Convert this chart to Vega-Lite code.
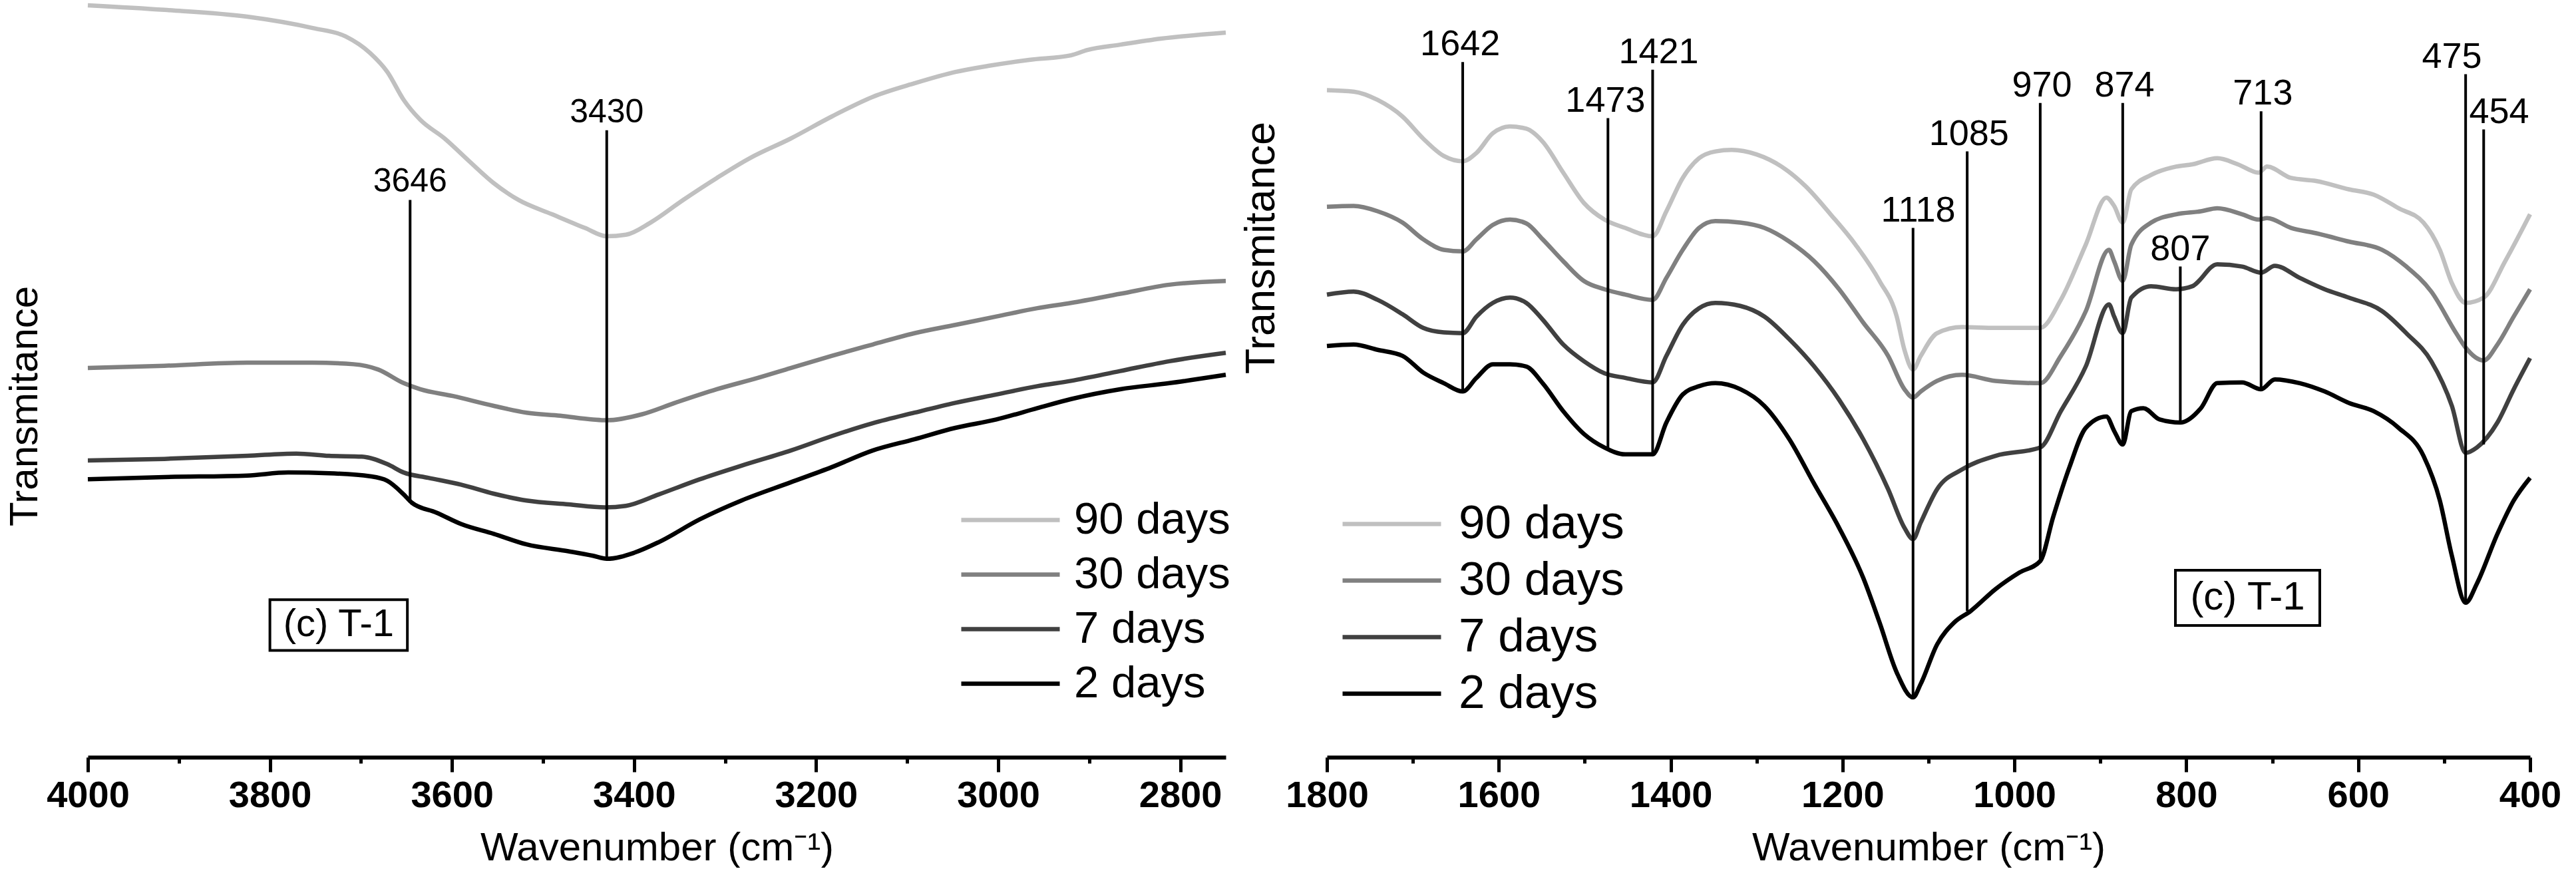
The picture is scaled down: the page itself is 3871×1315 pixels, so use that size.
{
  "$schema": "https://vega.github.io/schema/vega-lite/v6.json",
  "usermeta": {"embedOptions": {"actions": false}},
  "background": "white",
  "padding": {"left": 7, "top": 0, "right": 0, "bottom": 0},
  "autosize": {"type": "pad"},
  "spacing": 15,
  "resolve": {"scale": {"color": "independent"}, "legend": {"color": "independent"}},
  "config": {
    "view": {"stroke": null},
    "font": "Liberation Sans",
    "line": {"interpolate": "monotone", "strokeWidth": 6.5, "strokeJoin": "round"},
    "axisX": {
      "orient": "bottom",
      "grid": false,
      "format": "d",
      "domainColor": "black",
      "domainWidth": 6,
      "tickColor": "black",
      "tickWidth": 5,
      "tickSize": 22,
      "labelFont": "Liberation Sans",
      "labelFontSize": 56,
      "labelFontWeight": "bold",
      "labelColor": "black",
      "labelPadding": 8,
      "labelFlush": false,
      "labelOverlap": false,
      "titleFont": "Liberation Sans",
      "titleFontSize": 60,
      "titleFontWeight": "normal",
      "titleColor": "black",
      "titlePadding": 22
    },
    "axisY": {
      "grid": false,
      "domain": false,
      "ticks": false,
      "labels": false,
      "titleFont": "Liberation Sans",
      "titleFontWeight": "normal",
      "titleColor": "black",
      "titleAngle": 270,
      "titleAlign": "center",
      "titleBaseline": "middle"
    },
    "legend": {
      "orient": "none",
      "title": null,
      "padding": 0,
      "symbolType": "M-1,0H8.867",
      "symbolSize": 900,
      "symbolStrokeWidth": 7,
      "labelFont": "Liberation Sans",
      "labelColor": "black",
      "labelLimit": 0
    }
  },
  "datasets": {
    "left": [
      {"s": "90 days", "wn": 4000, "t": 99.3}, {"s": "90 days", "wn": 3916, "t": 98.7},
      {"s": "90 days", "wn": 3825, "t": 97.8}, {"s": "90 days", "wn": 3753, "t": 96.3},
      {"s": "90 days", "wn": 3717, "t": 95.2}, {"s": "90 days", "wn": 3690, "t": 93.0},
      {"s": "90 days", "wn": 3671, "t": 90.5}, {"s": "90 days", "wn": 3653, "t": 86.8},
      {"s": "90 days", "wn": 3635, "t": 84.2}, {"s": "90 days", "wn": 3608, "t": 81.7},
      {"s": "90 days", "wn": 3581, "t": 78.7}, {"s": "90 days", "wn": 3554, "t": 75.8},
      {"s": "90 days", "wn": 3527, "t": 73.6}, {"s": "90 days", "wn": 3490, "t": 71.7},
      {"s": "90 days", "wn": 3454, "t": 69.9}, {"s": "90 days", "wn": 3430, "t": 68.8},
      {"s": "90 days", "wn": 3409, "t": 69.0}, {"s": "90 days", "wn": 3382, "t": 70.6},
      {"s": "90 days", "wn": 3346, "t": 73.6}, {"s": "90 days", "wn": 3309, "t": 76.5},
      {"s": "90 days", "wn": 3273, "t": 79.1}, {"s": "90 days", "wn": 3228, "t": 81.7},
      {"s": "90 days", "wn": 3183, "t": 84.6}, {"s": "90 days", "wn": 3138, "t": 87.2},
      {"s": "90 days", "wn": 3092, "t": 89.0}, {"s": "90 days", "wn": 3047, "t": 90.5},
      {"s": "90 days", "wn": 3011, "t": 91.3}, {"s": "90 days", "wn": 2966, "t": 92.1},
      {"s": "90 days", "wn": 2920, "t": 92.7}, {"s": "90 days", "wn": 2902, "t": 93.4},
      {"s": "90 days", "wn": 2866, "t": 94.1}, {"s": "90 days", "wn": 2821, "t": 94.9},
      {"s": "90 days", "wn": 2750, "t": 95.7},

      {"s": "30 days", "wn": 4000, "t": 51.4}, {"s": "30 days", "wn": 3916, "t": 51.7},
      {"s": "30 days", "wn": 3825, "t": 52.1}, {"s": "30 days", "wn": 3753, "t": 52.1},
      {"s": "30 days", "wn": 3708, "t": 51.9}, {"s": "30 days", "wn": 3681, "t": 51.2},
      {"s": "30 days", "wn": 3653, "t": 49.4}, {"s": "30 days", "wn": 3635, "t": 48.6},
      {"s": "30 days", "wn": 3599, "t": 47.7}, {"s": "30 days", "wn": 3554, "t": 46.4},
      {"s": "30 days", "wn": 3518, "t": 45.5}, {"s": "30 days", "wn": 3481, "t": 45.1},
      {"s": "30 days", "wn": 3445, "t": 44.6}, {"s": "30 days", "wn": 3430, "t": 44.5},
      {"s": "30 days", "wn": 3391, "t": 45.3}, {"s": "30 days", "wn": 3355, "t": 46.8},
      {"s": "30 days", "wn": 3309, "t": 48.6}, {"s": "30 days", "wn": 3264, "t": 50.1},
      {"s": "30 days", "wn": 3228, "t": 51.4}, {"s": "30 days", "wn": 3183, "t": 53.0},
      {"s": "30 days", "wn": 3138, "t": 54.5}, {"s": "30 days", "wn": 3092, "t": 56.0},
      {"s": "30 days", "wn": 3047, "t": 57.1}, {"s": "30 days", "wn": 3002, "t": 58.2},
      {"s": "30 days", "wn": 2957, "t": 59.3}, {"s": "30 days", "wn": 2920, "t": 60.0},
      {"s": "30 days", "wn": 2866, "t": 61.2}, {"s": "30 days", "wn": 2812, "t": 62.4},
      {"s": "30 days", "wn": 2750, "t": 62.9},

      {"s": "7 days", "wn": 4000, "t": 39.2}, {"s": "7 days", "wn": 3916, "t": 39.4},
      {"s": "7 days", "wn": 3825, "t": 39.8}, {"s": "7 days", "wn": 3771, "t": 40.1},
      {"s": "7 days", "wn": 3735, "t": 39.8}, {"s": "7 days", "wn": 3699, "t": 39.7},
      {"s": "7 days", "wn": 3671, "t": 38.7}, {"s": "7 days", "wn": 3653, "t": 37.6},
      {"s": "7 days", "wn": 3626, "t": 36.9}, {"s": "7 days", "wn": 3590, "t": 36.0},
      {"s": "7 days", "wn": 3554, "t": 34.8}, {"s": "7 days", "wn": 3518, "t": 33.9},
      {"s": "7 days", "wn": 3472, "t": 33.4}, {"s": "7 days", "wn": 3432, "t": 33.0},
      {"s": "7 days", "wn": 3409, "t": 33.2}, {"s": "7 days", "wn": 3373, "t": 34.7},
      {"s": "7 days", "wn": 3328, "t": 36.7}, {"s": "7 days", "wn": 3282, "t": 38.5},
      {"s": "7 days", "wn": 3228, "t": 40.5}, {"s": "7 days", "wn": 3183, "t": 42.4},
      {"s": "7 days", "wn": 3138, "t": 44.1}, {"s": "7 days", "wn": 3092, "t": 45.5},
      {"s": "7 days", "wn": 3047, "t": 46.8}, {"s": "7 days", "wn": 3002, "t": 47.9},
      {"s": "7 days", "wn": 2957, "t": 49.0}, {"s": "7 days", "wn": 2920, "t": 49.7},
      {"s": "7 days", "wn": 2866, "t": 51.0}, {"s": "7 days", "wn": 2812, "t": 52.3},
      {"s": "7 days", "wn": 2750, "t": 53.4},

      {"s": "2 days", "wn": 4000, "t": 36.7}, {"s": "2 days", "wn": 3916, "t": 37.0},
      {"s": "2 days", "wn": 3825, "t": 37.2}, {"s": "2 days", "wn": 3780, "t": 37.6},
      {"s": "2 days", "wn": 3735, "t": 37.5}, {"s": "2 days", "wn": 3690, "t": 37.1},
      {"s": "2 days", "wn": 3671, "t": 36.5}, {"s": "2 days", "wn": 3653, "t": 34.7},
      {"s": "2 days", "wn": 3644, "t": 33.6}, {"s": "2 days", "wn": 3617, "t": 32.3},
      {"s": "2 days", "wn": 3590, "t": 30.8}, {"s": "2 days", "wn": 3554, "t": 29.5},
      {"s": "2 days", "wn": 3518, "t": 28.1}, {"s": "2 days", "wn": 3472, "t": 27.2},
      {"s": "2 days", "wn": 3445, "t": 26.6}, {"s": "2 days", "wn": 3430, "t": 26.2},
      {"s": "2 days", "wn": 3400, "t": 27.0}, {"s": "2 days", "wn": 3373, "t": 28.4},
      {"s": "2 days", "wn": 3328, "t": 31.4}, {"s": "2 days", "wn": 3282, "t": 33.9},
      {"s": "2 days", "wn": 3228, "t": 36.3}, {"s": "2 days", "wn": 3183, "t": 38.3},
      {"s": "2 days", "wn": 3138, "t": 40.5}, {"s": "2 days", "wn": 3092, "t": 42.0},
      {"s": "2 days", "wn": 3047, "t": 43.5}, {"s": "2 days", "wn": 3002, "t": 44.6},
      {"s": "2 days", "wn": 2957, "t": 46.1}, {"s": "2 days", "wn": 2920, "t": 47.3},
      {"s": "2 days", "wn": 2866, "t": 48.6}, {"s": "2 days", "wn": 2812, "t": 49.4},
      {"s": "2 days", "wn": 2750, "t": 50.5}
    ],
    "right": [
      {"s": "90 days", "wn": 1800, "t": 88.1}, {"s": "90 days", "wn": 1769, "t": 87.9},
      {"s": "90 days", "wn": 1741, "t": 86.8}, {"s": "90 days", "wn": 1712, "t": 84.6},
      {"s": "90 days", "wn": 1688, "t": 81.7}, {"s": "90 days", "wn": 1664, "t": 79.4},
      {"s": "90 days", "wn": 1642, "t": 78.7}, {"s": "90 days", "wn": 1626, "t": 79.8},
      {"s": "90 days", "wn": 1607, "t": 82.4}, {"s": "90 days", "wn": 1587, "t": 83.3},
      {"s": "90 days", "wn": 1568, "t": 83.0}, {"s": "90 days", "wn": 1549, "t": 81.3},
      {"s": "90 days", "wn": 1525, "t": 77.2}, {"s": "90 days", "wn": 1501, "t": 73.2},
      {"s": "90 days", "wn": 1477, "t": 71.0}, {"s": "90 days", "wn": 1453, "t": 69.9},
      {"s": "90 days", "wn": 1421, "t": 68.8}, {"s": "90 days", "wn": 1405, "t": 72.1},
      {"s": "90 days", "wn": 1386, "t": 76.5}, {"s": "90 days", "wn": 1367, "t": 79.1},
      {"s": "90 days", "wn": 1348, "t": 80.0}, {"s": "90 days", "wn": 1329, "t": 80.2},
      {"s": "90 days", "wn": 1300, "t": 79.6}, {"s": "90 days", "wn": 1271, "t": 78.0},
      {"s": "90 days", "wn": 1243, "t": 75.4}, {"s": "90 days", "wn": 1214, "t": 71.7},
      {"s": "90 days", "wn": 1185, "t": 67.7}, {"s": "90 days", "wn": 1157, "t": 62.9},
      {"s": "90 days", "wn": 1137, "t": 58.2}, {"s": "90 days", "wn": 1128, "t": 53.8},
      {"s": "90 days", "wn": 1118, "t": 51.2}, {"s": "90 days", "wn": 1109, "t": 53.0},
      {"s": "90 days", "wn": 1090, "t": 56.0}, {"s": "90 days", "wn": 1061, "t": 56.8},
      {"s": "90 days", "wn": 1022, "t": 56.7}, {"s": "90 days", "wn": 970, "t": 56.7},
      {"s": "90 days", "wn": 946, "t": 60.4}, {"s": "90 days", "wn": 917, "t": 67.7},
      {"s": "90 days", "wn": 893, "t": 73.9}, {"s": "90 days", "wn": 884, "t": 72.8},
      {"s": "90 days", "wn": 874, "t": 70.6}, {"s": "90 days", "wn": 864, "t": 75.0},
      {"s": "90 days", "wn": 841, "t": 76.9}, {"s": "90 days", "wn": 812, "t": 78.0},
      {"s": "90 days", "wn": 793, "t": 78.3}, {"s": "90 days", "wn": 764, "t": 79.1},
      {"s": "90 days", "wn": 740, "t": 78.3}, {"s": "90 days", "wn": 716, "t": 77.2},
      {"s": "90 days", "wn": 706, "t": 78.0}, {"s": "90 days", "wn": 678, "t": 76.5},
      {"s": "90 days", "wn": 649, "t": 76.1}, {"s": "90 days", "wn": 611, "t": 75.0},
      {"s": "90 days", "wn": 582, "t": 74.3}, {"s": "90 days", "wn": 553, "t": 72.5},
      {"s": "90 days", "wn": 524, "t": 70.6}, {"s": "90 days", "wn": 505, "t": 67.0},
      {"s": "90 days", "wn": 491, "t": 62.6}, {"s": "90 days", "wn": 475, "t": 60.0},
      {"s": "90 days", "wn": 454, "t": 60.7}, {"s": "90 days", "wn": 429, "t": 65.5},
      {"s": "90 days", "wn": 400, "t": 71.7},

      {"s": "30 days", "wn": 1800, "t": 72.7}, {"s": "30 days", "wn": 1769, "t": 72.8},
      {"s": "30 days", "wn": 1741, "t": 72.1}, {"s": "30 days", "wn": 1712, "t": 70.6},
      {"s": "30 days", "wn": 1688, "t": 68.4}, {"s": "30 days", "wn": 1664, "t": 67.0},
      {"s": "30 days", "wn": 1642, "t": 66.8}, {"s": "30 days", "wn": 1626, "t": 68.4},
      {"s": "30 days", "wn": 1607, "t": 70.3}, {"s": "30 days", "wn": 1587, "t": 71.0},
      {"s": "30 days", "wn": 1568, "t": 70.5}, {"s": "30 days", "wn": 1549, "t": 68.4},
      {"s": "30 days", "wn": 1525, "t": 65.5}, {"s": "30 days", "wn": 1501, "t": 62.9},
      {"s": "30 days", "wn": 1477, "t": 61.8}, {"s": "30 days", "wn": 1453, "t": 61.1},
      {"s": "30 days", "wn": 1421, "t": 60.4}, {"s": "30 days", "wn": 1405, "t": 63.3},
      {"s": "30 days", "wn": 1386, "t": 67.0}, {"s": "30 days", "wn": 1367, "t": 69.9},
      {"s": "30 days", "wn": 1348, "t": 70.8}, {"s": "30 days", "wn": 1319, "t": 70.6},
      {"s": "30 days", "wn": 1291, "t": 69.9}, {"s": "30 days", "wn": 1262, "t": 68.1},
      {"s": "30 days", "wn": 1233, "t": 65.5}, {"s": "30 days", "wn": 1204, "t": 61.8},
      {"s": "30 days", "wn": 1176, "t": 57.4}, {"s": "30 days", "wn": 1147, "t": 53.0},
      {"s": "30 days", "wn": 1128, "t": 48.6}, {"s": "30 days", "wn": 1118, "t": 47.5},
      {"s": "30 days", "wn": 1109, "t": 48.3}, {"s": "30 days", "wn": 1090, "t": 49.7},
      {"s": "30 days", "wn": 1061, "t": 50.5}, {"s": "30 days", "wn": 1022, "t": 49.7},
      {"s": "30 days", "wn": 970, "t": 49.4}, {"s": "30 days", "wn": 946, "t": 53.0},
      {"s": "30 days", "wn": 917, "t": 58.9}, {"s": "30 days", "wn": 890, "t": 67.0},
      {"s": "30 days", "wn": 884, "t": 65.5}, {"s": "30 days", "wn": 874, "t": 62.9},
      {"s": "30 days", "wn": 864, "t": 67.7}, {"s": "30 days", "wn": 841, "t": 70.6},
      {"s": "30 days", "wn": 812, "t": 71.7}, {"s": "30 days", "wn": 783, "t": 72.1},
      {"s": "30 days", "wn": 764, "t": 72.5}, {"s": "30 days", "wn": 735, "t": 71.7},
      {"s": "30 days", "wn": 716, "t": 71.0}, {"s": "30 days", "wn": 706, "t": 71.2},
      {"s": "30 days", "wn": 678, "t": 69.9}, {"s": "30 days", "wn": 649, "t": 69.2},
      {"s": "30 days", "wn": 611, "t": 68.1}, {"s": "30 days", "wn": 572, "t": 67.0},
      {"s": "30 days", "wn": 544, "t": 64.8}, {"s": "30 days", "wn": 515, "t": 61.5},
      {"s": "30 days", "wn": 486, "t": 56.0}, {"s": "30 days", "wn": 475, "t": 54.1},
      {"s": "30 days", "wn": 454, "t": 52.4}, {"s": "30 days", "wn": 438, "t": 54.5},
      {"s": "30 days", "wn": 419, "t": 58.2}, {"s": "30 days", "wn": 400, "t": 61.8},

      {"s": "7 days", "wn": 1800, "t": 61.1}, {"s": "7 days", "wn": 1769, "t": 61.5},
      {"s": "7 days", "wn": 1741, "t": 60.4}, {"s": "7 days", "wn": 1712, "t": 58.5},
      {"s": "7 days", "wn": 1688, "t": 56.7}, {"s": "7 days", "wn": 1664, "t": 56.1},
      {"s": "7 days", "wn": 1642, "t": 56.0}, {"s": "7 days", "wn": 1626, "t": 58.2},
      {"s": "7 days", "wn": 1607, "t": 60.0}, {"s": "7 days", "wn": 1587, "t": 60.7},
      {"s": "7 days", "wn": 1568, "t": 60.0}, {"s": "7 days", "wn": 1549, "t": 57.8},
      {"s": "7 days", "wn": 1525, "t": 54.5}, {"s": "7 days", "wn": 1501, "t": 52.3},
      {"s": "7 days", "wn": 1477, "t": 50.7}, {"s": "7 days", "wn": 1453, "t": 50.1},
      {"s": "7 days", "wn": 1421, "t": 49.5}, {"s": "7 days", "wn": 1405, "t": 53.0},
      {"s": "7 days", "wn": 1386, "t": 57.1}, {"s": "7 days", "wn": 1367, "t": 59.3},
      {"s": "7 days", "wn": 1348, "t": 60.0}, {"s": "7 days", "wn": 1319, "t": 59.6},
      {"s": "7 days", "wn": 1291, "t": 58.2}, {"s": "7 days", "wn": 1262, "t": 55.2},
      {"s": "7 days", "wn": 1233, "t": 51.6}, {"s": "7 days", "wn": 1204, "t": 47.2},
      {"s": "7 days", "wn": 1176, "t": 42.0}, {"s": "7 days", "wn": 1147, "t": 35.4},
      {"s": "7 days", "wn": 1128, "t": 30.3}, {"s": "7 days", "wn": 1118, "t": 28.8},
      {"s": "7 days", "wn": 1109, "t": 31.0}, {"s": "7 days", "wn": 1090, "t": 35.4},
      {"s": "7 days", "wn": 1061, "t": 38.0}, {"s": "7 days", "wn": 1022, "t": 39.8},
      {"s": "7 days", "wn": 970, "t": 40.9}, {"s": "7 days", "wn": 946, "t": 45.7},
      {"s": "7 days", "wn": 917, "t": 51.6}, {"s": "7 days", "wn": 890, "t": 59.8},
      {"s": "7 days", "wn": 884, "t": 58.2}, {"s": "7 days", "wn": 874, "t": 56.0},
      {"s": "7 days", "wn": 864, "t": 60.7}, {"s": "7 days", "wn": 841, "t": 62.2},
      {"s": "7 days", "wn": 812, "t": 61.8}, {"s": "7 days", "wn": 793, "t": 62.2},
      {"s": "7 days", "wn": 764, "t": 65.1}, {"s": "7 days", "wn": 735, "t": 64.8},
      {"s": "7 days", "wn": 713, "t": 64.0}, {"s": "7 days", "wn": 697, "t": 64.9},
      {"s": "7 days", "wn": 668, "t": 63.3}, {"s": "7 days", "wn": 639, "t": 61.8},
      {"s": "7 days", "wn": 611, "t": 60.7}, {"s": "7 days", "wn": 572, "t": 58.9},
      {"s": "7 days", "wn": 544, "t": 56.0}, {"s": "7 days", "wn": 515, "t": 52.3},
      {"s": "7 days", "wn": 491, "t": 46.4}, {"s": "7 days", "wn": 475, "t": 40.2},
      {"s": "7 days", "wn": 462, "t": 40.9}, {"s": "7 days", "wn": 438, "t": 44.2},
      {"s": "7 days", "wn": 419, "t": 48.6}, {"s": "7 days", "wn": 400, "t": 52.7},

      {"s": "2 days", "wn": 1800, "t": 54.3}, {"s": "2 days", "wn": 1769, "t": 54.5},
      {"s": "2 days", "wn": 1741, "t": 53.8}, {"s": "2 days", "wn": 1712, "t": 53.0},
      {"s": "2 days", "wn": 1688, "t": 50.8}, {"s": "2 days", "wn": 1664, "t": 49.4},
      {"s": "2 days", "wn": 1642, "t": 48.3}, {"s": "2 days", "wn": 1626, "t": 50.1},
      {"s": "2 days", "wn": 1607, "t": 51.9}, {"s": "2 days", "wn": 1587, "t": 51.9},
      {"s": "2 days", "wn": 1568, "t": 51.6}, {"s": "2 days", "wn": 1549, "t": 49.4},
      {"s": "2 days", "wn": 1525, "t": 45.7}, {"s": "2 days", "wn": 1501, "t": 42.7},
      {"s": "2 days", "wn": 1477, "t": 40.9}, {"s": "2 days", "wn": 1453, "t": 40.0},
      {"s": "2 days", "wn": 1421, "t": 40.0}, {"s": "2 days", "wn": 1405, "t": 44.2},
      {"s": "2 days", "wn": 1386, "t": 47.9}, {"s": "2 days", "wn": 1367, "t": 49.0},
      {"s": "2 days", "wn": 1348, "t": 49.4}, {"s": "2 days", "wn": 1319, "t": 48.6},
      {"s": "2 days", "wn": 1291, "t": 46.4}, {"s": "2 days", "wn": 1262, "t": 42.0},
      {"s": "2 days", "wn": 1233, "t": 36.1}, {"s": "2 days", "wn": 1204, "t": 30.3},
      {"s": "2 days", "wn": 1176, "t": 23.7}, {"s": "2 days", "wn": 1157, "t": 17.8},
      {"s": "2 days", "wn": 1137, "t": 11.2}, {"s": "2 days", "wn": 1118, "t": 7.9},
      {"s": "2 days", "wn": 1109, "t": 9.7}, {"s": "2 days", "wn": 1090, "t": 14.9},
      {"s": "2 days", "wn": 1070, "t": 17.8}, {"s": "2 days", "wn": 1051, "t": 19.3},
      {"s": "2 days", "wn": 1022, "t": 22.2}, {"s": "2 days", "wn": 994, "t": 24.4},
      {"s": "2 days", "wn": 970, "t": 25.9}, {"s": "2 days", "wn": 955, "t": 31.7},
      {"s": "2 days", "wn": 936, "t": 38.3}, {"s": "2 days", "wn": 917, "t": 43.5},
      {"s": "2 days", "wn": 893, "t": 45.0}, {"s": "2 days", "wn": 884, "t": 43.1},
      {"s": "2 days", "wn": 874, "t": 41.3}, {"s": "2 days", "wn": 864, "t": 45.7},
      {"s": "2 days", "wn": 850, "t": 46.1}, {"s": "2 days", "wn": 831, "t": 44.6},
      {"s": "2 days", "wn": 807, "t": 44.2}, {"s": "2 days", "wn": 783, "t": 46.1},
      {"s": "2 days", "wn": 764, "t": 49.4}, {"s": "2 days", "wn": 735, "t": 49.5},
      {"s": "2 days", "wn": 713, "t": 48.6}, {"s": "2 days", "wn": 697, "t": 49.9},
      {"s": "2 days", "wn": 668, "t": 49.4}, {"s": "2 days", "wn": 639, "t": 48.3},
      {"s": "2 days", "wn": 611, "t": 46.8}, {"s": "2 days", "wn": 582, "t": 45.7},
      {"s": "2 days", "wn": 553, "t": 43.5}, {"s": "2 days", "wn": 524, "t": 39.8},
      {"s": "2 days", "wn": 505, "t": 33.9}, {"s": "2 days", "wn": 491, "t": 26.6},
      {"s": "2 days", "wn": 475, "t": 20.4}, {"s": "2 days", "wn": 462, "t": 22.9},
      {"s": "2 days", "wn": 438, "t": 29.5}, {"s": "2 days", "wn": 419, "t": 33.9},
      {"s": "2 days", "wn": 400, "t": 36.9}
    ],
    "leftPeaks": [
      {"label": "3430", "pos": 3430, "lx": 3430, "top": 82.8, "bot": 26.2},
      {"label": "3646", "pos": 3646, "lx": 3646, "top": 73.6, "bot": 33.6}
    ],
    "rightPeaks": [
      {"label": "1642", "pos": 1642, "lx": 1645, "top": 91.8, "bot": 48.3},
      {"label": "1473", "pos": 1473, "lx": 1476, "top": 84.4, "bot": 40.5},
      {"label": "1421", "pos": 1421, "lx": 1414, "top": 90.8, "bot": 40.0},
      {"label": "1118", "pos": 1118, "lx": 1112, "top": 69.9, "bot": 7.9},
      {"label": "1085", "pos": 1055, "lx": 1053, "top": 80.0, "bot": 19.3},
      {"label": "970", "pos": 970, "lx": 968, "top": 86.4, "bot": 25.9},
      {"label": "874", "pos": 874, "lx": 872, "top": 86.4, "bot": 41.3},
      {"label": "807", "pos": 807, "lx": 807, "top": 64.8, "bot": 44.2},
      {"label": "713", "pos": 713, "lx": 711, "top": 85.3, "bot": 48.6},
      {"label": "475", "pos": 475, "lx": 491, "top": 90.2, "bot": 20.4},
      {"label": "454", "pos": 454, "lx": 436, "top": 82.9, "bot": 41.3}
    ],
    "leftBox": [{"text": "(c) T-1", "x1": 3800, "x2": 3649, "y1": 20.8, "y2": 14.1, "cx": 3724.5, "cy": 17.5}],
    "rightBox": [{"text": "(c) T-1", "x1": 812.7, "x2": 644.7, "y1": 24.7, "y2": 17.4, "cx": 728.7, "cy": 21.05}]
  },
  "hconcat": [
    {
      "width": 1710,
      "height": 1138,
      "resolve": {"axis": {"x": "independent"}},
      "layer": [
        {
          "data": {"name": "left"},
          "mark": {"type": "line"},
          "encoding": {
            "x": {
              "field": "wn", "type": "quantitative",
              "scale": {"domain": [2750, 4000], "reverse": true, "nice": false, "zero": false},
              "axis": {"values": [4000, 3800, 3600, 3400, 3200, 3000, 2800]},
              "title": "Wavenumber (cm⁻¹)"
            },
            "y": {
              "field": "t", "type": "quantitative",
              "scale": {"domain": [0, 100], "nice": false, "zero": false},
              "axis": {"titleX": -95, "titleY": 610, "titleFontSize": 60},
              "title": "Transmitance"
            },
            "color": {
              "field": "s", "type": "nominal",
              "scale": {"domain": ["90 days", "30 days", "7 days", "2 days"], "range": ["#c0c0c0", "#808080", "#404040", "#000000"]},
              "legend": {"legendX": 1294, "legendY": 748, "labelFontSize": 67, "labelOffset": 121, "rowPadding": 14}
            }
          }
        },
        {
          "data": {"name": "leftPeaks"},
          "mark": {"type": "rule", "strokeWidth": 4, "color": "black"},
          "encoding": {
            "x": {
              "field": "pos", "type": "quantitative",
              "axis": {"orient": "bottom", "values": [3900, 3700, 3500, 3300, 3100, 2900], "labels": false, "domain": false, "tickSize": 9, "title": null}
            },
            "y": {"field": "top", "type": "quantitative", "title": "Transmitance"},
            "y2": {"field": "bot"}
          }
        },
        {
          "data": {"name": "leftPeaks"},
          "mark": {"type": "text", "fontSize": 50, "baseline": "alphabetic", "dy": -12, "color": "black"},
          "encoding": {
            "x": {"field": "lx", "type": "quantitative", "axis": null},
            "y": {"field": "top", "type": "quantitative", "title": "Transmitance"},
            "text": {"field": "label"}
          }
        },
        {
          "data": {"name": "leftBox"},
          "mark": {"type": "rect", "fill": "white", "stroke": "black", "strokeWidth": 4},
          "encoding": {
            "x": {"field": "x1", "type": "quantitative", "axis": null},
            "x2": {"field": "x2"},
            "y": {"field": "y1", "type": "quantitative", "title": "Transmitance"},
            "y2": {"field": "y2"}
          }
        },
        {
          "data": {"name": "leftBox"},
          "mark": {"type": "text", "fontSize": 58, "baseline": "middle", "align": "center", "color": "black"},
          "encoding": {
            "x": {"field": "cx", "type": "quantitative", "axis": null},
            "y": {"field": "cy", "type": "quantitative", "title": "Transmitance"},
            "text": {"field": "text"}
          }
        }
      ]
    },
    {
      "width": 1808,
      "height": 1138,
      "resolve": {"axis": {"x": "independent"}},
      "layer": [
        {
          "data": {"name": "right"},
          "mark": {"type": "line"},
          "encoding": {
            "x": {
              "field": "wn", "type": "quantitative",
              "scale": {"domain": [400, 1800], "reverse": true, "nice": false, "zero": false},
              "axis": {"values": [1800, 1600, 1400, 1200, 1000, 800, 600, 400]},
              "title": "Wavenumber (cm⁻¹)"
            },
            "y": {
              "field": "t", "type": "quantitative",
              "scale": {"domain": [0, 100], "nice": false, "zero": false},
              "axis": {"titleX": -99, "titleY": 372, "titleFontSize": 63},
              "title": "Transmitance"
            },
            "color": {
              "field": "s", "type": "nominal",
              "scale": {"domain": ["90 days", "30 days", "7 days", "2 days"], "range": ["#c0c0c0", "#808080", "#404040", "#000000"]},
              "legend": {"legendX": 3, "legendY": 752, "labelFontSize": 71, "labelOffset": 124, "rowPadding": 13}
            }
          }
        },
        {
          "data": {"name": "rightPeaks"},
          "mark": {"type": "rule", "strokeWidth": 4, "color": "black"},
          "encoding": {
            "x": {
              "field": "pos", "type": "quantitative",
              "axis": {"orient": "bottom", "values": [1700, 1500, 1300, 1100, 900, 700, 500], "labels": false, "domain": false, "tickSize": 9, "title": null}
            },
            "y": {"field": "top", "type": "quantitative", "title": "Transmitance"},
            "y2": {"field": "bot"}
          }
        },
        {
          "data": {"name": "rightPeaks"},
          "mark": {"type": "text", "fontSize": 54, "baseline": "alphabetic", "dy": -10, "color": "black"},
          "encoding": {
            "x": {"field": "lx", "type": "quantitative", "axis": null},
            "y": {"field": "top", "type": "quantitative", "title": "Transmitance"},
            "text": {"field": "label"}
          }
        },
        {
          "data": {"name": "rightBox"},
          "mark": {"type": "rect", "fill": "white", "stroke": "black", "strokeWidth": 4},
          "encoding": {
            "x": {"field": "x1", "type": "quantitative", "axis": null},
            "x2": {"field": "x2"},
            "y": {"field": "y1", "type": "quantitative", "title": "Transmitance"},
            "y2": {"field": "y2"}
          }
        },
        {
          "data": {"name": "rightBox"},
          "mark": {"type": "text", "fontSize": 60, "baseline": "middle", "align": "center", "color": "black"},
          "encoding": {
            "x": {"field": "cx", "type": "quantitative", "axis": null},
            "y": {"field": "cy", "type": "quantitative", "title": "Transmitance"},
            "text": {"field": "text"}
          }
        }
      ]
    }
  ]
}
